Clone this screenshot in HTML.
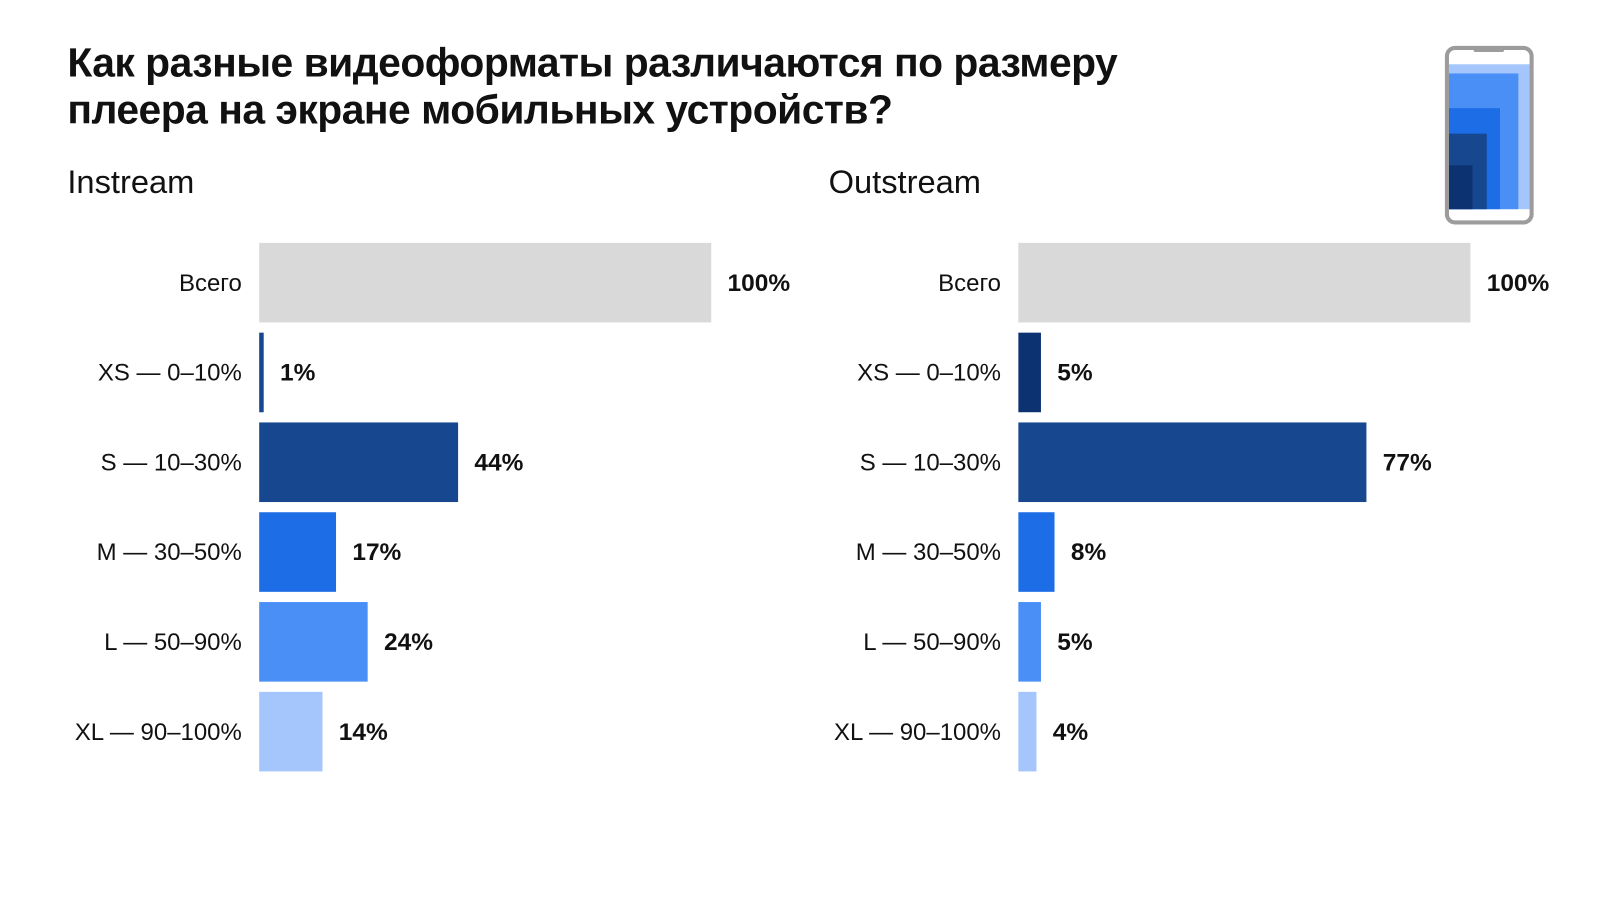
<!DOCTYPE html>
<html><head><meta charset="utf-8"><style>
body{margin:0;width:1600px;height:900px;background:#fff;font-family:"Liberation Sans",sans-serif;color:#111;overflow:hidden;position:relative}
#wrap{position:absolute;left:0;top:0;width:1568px;height:882px;transform:scale(1.0204);transform-origin:0 0}
.t{position:absolute;left:66px;top:39px;font-size:40px;font-weight:bold;line-height:46px;letter-spacing:-0.5px}
.sub{position:absolute;top:160px;font-size:32px}
</style></head><body>
<div id="wrap">
<div class="t">Как разные видеоформаты различаются по размеру<br>плеера на экране мобильных устройств?</div>
<div class="sub" style="left:66px">Instream</div>
<div class="sub" style="left:812px">Outstream</div>
<svg width="1568" height="882" style="position:absolute;left:0;top:0" id="chart">
<g>
<rect x="1420" y="63" width="80" height="142" fill="#a4c6fc"/>
<rect x="1420" y="72" width="68" height="133" fill="#4a8ff5"/>
<rect x="1420" y="106" width="50" height="99" fill="#1c6de6"/>
<rect x="1420" y="131" width="37" height="74" fill="#17478e"/>
<rect x="1420" y="162" width="23" height="43" fill="#0d3271"/>
<rect x="1418" y="47" width="83" height="171" rx="8" fill="none" stroke="#9c9c9c" stroke-width="4"/>
<rect x="1444" y="47" width="30" height="4" rx="2" fill="#9c9c9c"/>
</g>
</svg>
</div>
<script>
const categories=["Всего","XS — 0–10%","S — 10–30%","M — 30–50%","L — 50–90%","XL — 90–100%"];
const instreamValues=[100,1,44,17,24,14];
const outstreamValues=[100,5,77,8,5,4];
const colors=["#d9d9d9","#17478e","#17478e","#1c6de6","#4a8ff5","#a4c6fc"];
const panels=[{x0:254,vals:instreamValues,n:"instream"},{x0:998,vals:outstreamValues,n:"outstream"}];
const svg=document.getElementById('chart');
const NS="http://www.w3.org/2000/svg";
const xs=v=>v/100*443;
const yc=i=>277+i*88;
panels.forEach(p=>{
  p.vals.forEach((v,i)=>{
    const r=document.createElementNS(NS,'rect');
    r.setAttribute('x',p.x0);r.setAttribute('y',yc(i)-39);
    r.setAttribute('width',Math.max(xs(v),2));r.setAttribute('height',78);
    r.setAttribute('fill',i==1&&p.n=="outstream"?"#0d3271":colors[i]);
    
    
    svg.appendChild(r);
    const l=document.createElementNS(NS,'text');
    l.setAttribute('x',p.x0-17);l.setAttribute('y',yc(i)+8);
    l.setAttribute('text-anchor','end');l.setAttribute('font-size','23.5');l.setAttribute('fill','#111');
    l.textContent=categories[i];
    
    
    svg.appendChild(l);
    const t=document.createElementNS(NS,'text');
    t.setAttribute('x',p.x0+Math.max(xs(v),2)+16);t.setAttribute('y',yc(i)+8);
    t.setAttribute('font-size','24');t.setAttribute('font-weight','bold');t.setAttribute('fill','#111');
    t.textContent=v+'%';
    
    
    svg.appendChild(t);
  });
});
</script>
</body></html>
